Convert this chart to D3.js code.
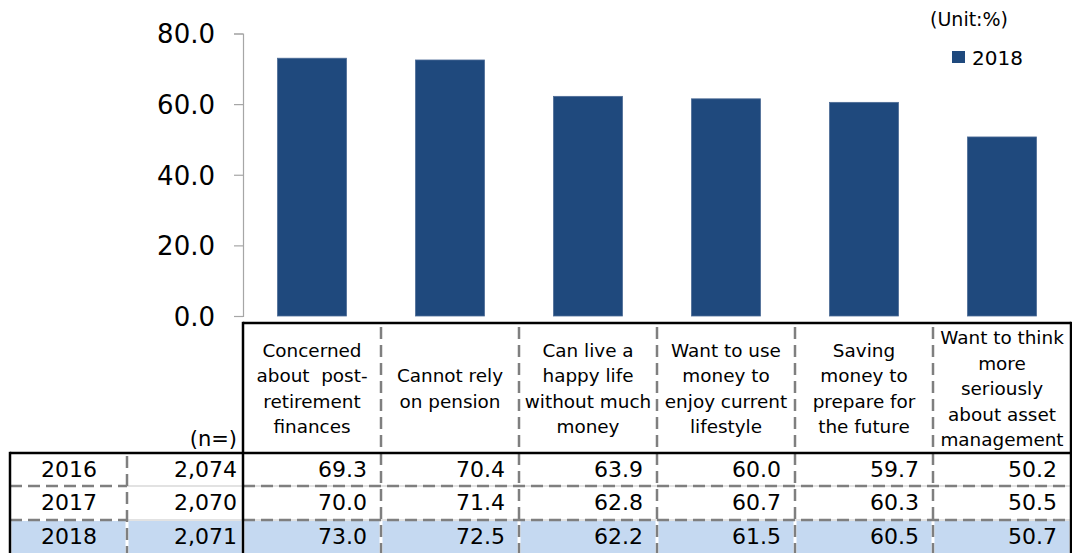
<!DOCTYPE html>
<html>
<head>
<meta charset="utf-8">
<script src="https://cdn.jsdelivr.net/npm/d3@7"></script>
<style>
  html, body { margin: 0; padding: 0; background: #fff; }
  svg { display: block; font-family: "DejaVu Sans", Verdana, sans-serif; }
  text { fill: #000; }
</style>
</head>
<body>
<svg id="chart" width="1072" height="553"></svg>
<script>
// Categories (table header labels, one array of lines each)
const categories = [
  "Concerned about post-retirement finances",
  "Cannot rely on pension",
  "Can live a happy life without much money",
  "Want to use money to enjoy current lifestyle",
  "Saving money to prepare for the future",
  "Want to think more seriously about asset management"
];
const headerLines = [
  ["Concerned", "about  post-", "retirement", "finances"],
  ["Cannot rely", "on pension"],
  ["Can live a", "happy life", "without much", "money"],
  ["Want to use", "money to", "enjoy current", "lifestyle"],
  ["Saving", "money to", "prepare for", "the future"],
  ["Want to think", "more", "seriously", "about asset", "management"]
];
const years = ["2016", "2017", "2018"];
const sampleSizes = ["2,074", "2,070", "2,071"];
const values2016 = [69.3, 70.4, 63.9, 60.0, 59.7, 50.2];
const values2017 = [70.0, 71.4, 62.8, 60.7, 60.3, 50.5];
const values2018 = [73.0, 72.5, 62.2, 61.5, 60.5, 50.7];
const yTicks = [0, 20, 40, 60, 80];
const barSeries = "2018";
const unitLabel = "(Unit:%)";

const svg = d3.select("#chart");
const barColor = "#1f497d";
const plotLeft = 243, plotRight = 1071;

const x = d3.scaleBand().domain(categories).range([plotLeft, plotRight])
  .paddingInner(0.5).paddingOuter(0.25);
const col = d3.scaleBand().domain(categories).range([plotLeft, plotRight]);
const y = d3.scaleLinear().domain([0, 80]).range([316, 33.5]);

// Y axis
const yAxis = d3.axisLeft(y).tickValues(yTicks).tickFormat(d3.format(".1f")).tickSize(9).tickPadding(19);
const ga = svg.append("g").attr("transform", `translate(${plotLeft},0)`).call(yAxis);
ga.select(".domain").attr("stroke", "#a6a6a6").attr("stroke-width", 1.2);
ga.selectAll(".tick line").attr("stroke", "#a6a6a6").attr("stroke-width", 1.2);
ga.selectAll(".tick text").attr("font-size", 26).attr("fill", "#000")
  .attr("font-family", "DejaVu Sans, Verdana, sans-serif").attr("dy", "0.36em");

// Bars
svg.append("g").selectAll("rect").data(categories).join("rect")
  .attr("x", d => x(d))
  .attr("y", (d, i) => y(values2018[i]))
  .attr("width", x.bandwidth())
  .attr("height", (d, i) => y(0) - y(values2018[i]))
  .attr("fill", barColor)
  .attr("stroke", "#4d6c96").attr("stroke-width", 0.8);

// Legend
svg.append("text").attr("x", 1008).attr("y", 26).attr("text-anchor", "end")
  .attr("font-size", 19).text(unitLabel);
svg.append("rect").attr("x", 952).attr("y", 51).attr("width", 13).attr("height", 12).attr("fill", barColor);
svg.append("text").attr("x", 972).attr("y", 65).attr("font-size", 20).text(barSeries);

// Table geometry
const headTop = 323, headBottom = 453;
const rowTops = [453, 486, 520];
const rowBottom = 553;
const tableLeft = 10, yearDivider = 127;
const g = svg.append("g");

// 2018 row background, cell by cell with small white gaps
const cellEdges = [tableLeft, yearDivider, plotLeft].concat(categories.map(c => col(c) + col.bandwidth()));
for (let k = 0; k < cellEdges.length - 1; k++) {
  g.append("rect")
    .attr("x", cellEdges[k] + 1.5).attr("y", rowTops[2] + 1)
    .attr("width", cellEdges[k + 1] - cellEdges[k] - 3).attr("height", rowBottom - rowTops[2])
    .attr("fill", "#c5d9f1");
}

const dashed = { stroke: "#7f7f7f", "stroke-width": 2.5, "stroke-dasharray": "12,6" };
function line(x1, y1, x2, y2, style) {
  const l = g.append("line").attr("x1", x1).attr("y1", y1).attr("x2", x2).attr("y2", y2);
  Object.entries(style).forEach(([k, v]) => l.attr(k, v));
  return l;
}
const solidBlack = { stroke: "#000", "stroke-width": 2.5 };
const lightGrey = { stroke: "#d9d9d9", "stroke-width": 1.5 };

// Horizontal row separators
[rowTops[1], rowTops[2]].forEach(yy => {
  line(tableLeft, yy, yearDivider, yy, dashed);
  line(yearDivider, yy, plotLeft, yy, lightGrey);
  line(plotLeft, yy, plotRight, yy, lightGrey);
  line(plotLeft, yy, plotRight, yy, dashed);
});

// Vertical category separators
categories.slice(1).forEach(c => {
  line(col(c), headTop + 4, col(c), rowBottom, dashed);
});
line(yearDivider, headBottom + 3, yearDivider, rowBottom, dashed);

// Solid black frame
line(plotLeft, headTop, plotRight, headTop, solidBlack);
line(plotLeft, headTop - 1.2, plotLeft, rowBottom, solidBlack);
line(plotRight, headTop - 1.2, plotRight, rowBottom, solidBlack);
line(tableLeft, headBottom, plotRight, headBottom, solidBlack);
line(tableLeft, headBottom - 1.2, tableLeft, rowBottom, solidBlack);

// Header text
const lineGap = 25.5, headMid = 395;
headerLines.forEach((lines, i) => {
  const cx = col(categories[i]) + col.bandwidth() / 2;
  const first = headMid - (lines.length - 1) * lineGap / 2;
  const t = g.append("text").attr("text-anchor", "middle").attr("font-size", 18.4)
    .style("white-space", "pre");
  lines.forEach((s, j) => {
    t.append("tspan").attr("x", cx).attr("y", first + j * lineGap).text(s);
  });
});
g.append("text").attr("x", 237).attr("y", 446).attr("text-anchor", "end")
  .attr("font-size", 21).text("(n=)");

// Data rows
const rows = [values2016, values2017, values2018];
rows.forEach((vals, r) => {
  const base = rowTops[r] + 24;
  g.append("text").attr("x", (tableLeft + yearDivider) / 2 + 0.5).attr("y", base)
    .attr("text-anchor", "middle").attr("font-size", 22).text(years[r]);
  g.append("text").attr("x", 237).attr("y", base)
    .attr("text-anchor", "end").attr("font-size", 22).text(sampleSizes[r]);
  vals.forEach((v, i) => {
    g.append("text").attr("x", col(categories[i]) + col.bandwidth() - 14).attr("y", base)
      .attr("text-anchor", "end").attr("font-size", 22).text(d3.format(".1f")(v));
  });
});
</script>
</body>
</html>
